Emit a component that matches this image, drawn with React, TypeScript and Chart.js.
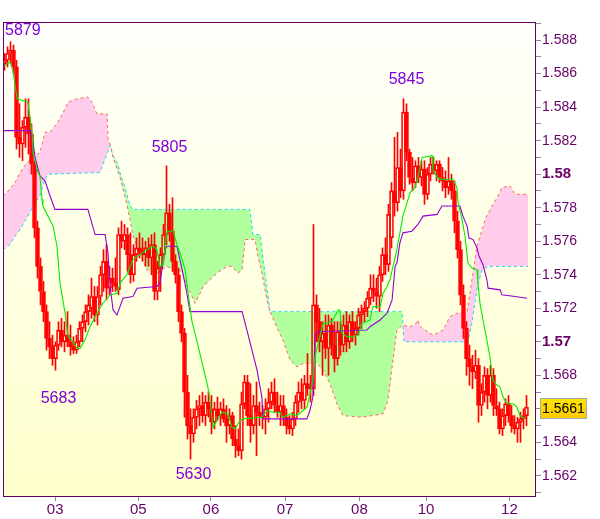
import React, { useEffect, useRef } from 'react';
import { Chart, registerables } from 'chart.js';

Chart.register(...registerables);

// ---- candle data (one bar per index) ----
const opens = [
  1.5866, 1.5868, 1.5872, 1.5874, 1.5864, 1.5822, 1.5818, 1.5828, 1.5834, 1.5824,
  1.5806, 1.5768, 1.5745, 1.5730, 1.5718, 1.5702, 1.5697, 1.5690, 1.5698, 1.5707,
  1.5700, 1.5704, 1.5700, 1.5697, 1.5695, 1.5700, 1.5708, 1.5712, 1.5718, 1.5720,
  1.5727, 1.5716, 1.5727, 1.5740, 1.5748, 1.5732, 1.5738, 1.5735, 1.5731, 1.5764,
  1.5760, 1.5764, 1.5752, 1.5740, 1.5752, 1.5756, 1.5754, 1.5752, 1.5756, 1.5750,
  1.5758, 1.5730, 1.5744, 1.5752, 1.5764, 1.5777, 1.5766, 1.5748, 1.5740, 1.5718,
  1.5705, 1.5670, 1.5650, 1.5645, 1.5655, 1.5660, 1.5662, 1.5656, 1.5664, 1.5660,
  1.5652, 1.5660, 1.5656, 1.5660, 1.5654, 1.5650, 1.5656, 1.5642, 1.5638, 1.5635,
  1.5663, 1.5676, 1.5656, 1.5650, 1.5662, 1.5658, 1.5656, 1.5655, 1.5660, 1.5664,
  1.5670, 1.5662, 1.5658, 1.5662, 1.5655, 1.5650, 1.5648, 1.5654, 1.5664, 1.5670,
  1.5665, 1.5675, 1.5672, 1.5672, 1.5722, 1.5712, 1.5700, 1.5705, 1.5696, 1.5710,
  1.5698, 1.5690, 1.5706, 1.5698, 1.5710, 1.5700, 1.5712, 1.5704, 1.5708, 1.5716,
  1.5718, 1.5720, 1.5726, 1.5732, 1.5730, 1.5727, 1.5740, 1.5752, 1.5746, 1.5762,
  1.5790, 1.5783, 1.5804, 1.5790, 1.5837, 1.5813, 1.5798, 1.5795, 1.5805, 1.5798,
  1.5803, 1.5788, 1.5800, 1.5806, 1.5802, 1.5806, 1.5798, 1.5796, 1.5792, 1.5796,
  1.5790, 1.5772, 1.5755, 1.5728, 1.5708, 1.5690, 1.5685, 1.5682, 1.5686, 1.5662,
  1.5670, 1.5680, 1.5668, 1.5680, 1.5662, 1.5660, 1.5648, 1.5656, 1.5663, 1.5656,
  1.5650, 1.5648, 1.5652, 1.5654, 1.5656,
];
const highs = [
  1.5872, 1.5876, 1.5879, 1.5877, 1.5868, 1.5842, 1.5832, 1.5845, 1.5845, 1.5830,
  1.5808, 1.5772, 1.5750, 1.5736, 1.5722, 1.5712, 1.5704, 1.5700, 1.5712, 1.5714,
  1.5712, 1.5718, 1.5710, 1.5703, 1.5704, 1.5712, 1.5716, 1.5722, 1.5728, 1.5738,
  1.5733, 1.5733, 1.5745, 1.5755, 1.5758, 1.5745, 1.5744, 1.5750, 1.5768, 1.5772,
  1.5770, 1.5768, 1.5765, 1.5758, 1.5762, 1.5765, 1.5762, 1.5760, 1.5762, 1.5764,
  1.5765, 1.5748, 1.5756, 1.5770, 1.5805, 1.5782, 1.5786, 1.5752, 1.5744, 1.5722,
  1.5708, 1.5680, 1.5660, 1.5660, 1.5665, 1.5668, 1.5670, 1.5668, 1.5670, 1.5668,
  1.5664, 1.5667, 1.5664, 1.5666, 1.5662, 1.5660, 1.5658, 1.5650, 1.5648, 1.5670,
  1.5680, 1.5680, 1.5675, 1.5668, 1.5676, 1.5664, 1.5662, 1.5666, 1.5672, 1.5676,
  1.5678, 1.5670, 1.5668, 1.5668, 1.5660, 1.5656, 1.5658, 1.5668, 1.5676, 1.5678,
  1.5680, 1.5693, 1.5680, 1.5770, 1.5728, 1.5720, 1.5712, 1.5716, 1.5716, 1.5714,
  1.5712, 1.5712, 1.5712, 1.5716, 1.5718, 1.5716, 1.5718, 1.5712, 1.5720, 1.5722,
  1.5724, 1.5730, 1.5740, 1.5740, 1.5738, 1.5745, 1.5756, 1.5762, 1.5782, 1.5795,
  1.5822, 1.5825, 1.5815, 1.5845, 1.5842, 1.5815, 1.5810, 1.5808, 1.5810, 1.5808,
  1.5808, 1.5804, 1.5810, 1.5810, 1.5808, 1.5808, 1.5804, 1.5802, 1.5810, 1.5800,
  1.5796, 1.5778, 1.5760, 1.5734, 1.5712, 1.5698, 1.5692, 1.5695, 1.5690, 1.5675,
  1.5685, 1.5684, 1.5686, 1.5684, 1.5672, 1.5664, 1.5660, 1.5666, 1.5668, 1.5662,
  1.5656, 1.5655, 1.5658, 1.5660, 1.5668,
];
const lows = [
  1.5862, 1.5864, 1.5866, 1.5860, 1.5815, 1.5810, 1.5808, 1.5816, 1.5812, 1.5800,
  1.5762, 1.5738, 1.5722, 1.5712, 1.5695, 1.5690, 1.5686, 1.5683, 1.5695, 1.5697,
  1.5694, 1.5697, 1.5692, 1.5693, 1.5693, 1.5697, 1.5700, 1.5706, 1.5710, 1.5714,
  1.5712, 1.5710, 1.5722, 1.5730, 1.5725, 1.5728, 1.5730, 1.5730, 1.5728, 1.5756,
  1.5755, 1.5742, 1.5735, 1.5736, 1.5748, 1.5750, 1.5748, 1.5745, 1.5745, 1.5740,
  1.5725, 1.5725, 1.5730, 1.5748, 1.5758, 1.5760, 1.5742, 1.5735, 1.5712, 1.5700,
  1.5655, 1.5642, 1.5630, 1.5640, 1.5648, 1.5650, 1.5652, 1.5650, 1.5655, 1.5645,
  1.5648, 1.5653, 1.5650, 1.5652, 1.5640, 1.5645, 1.5638, 1.5631, 1.5632, 1.5630,
  1.5660, 1.5650, 1.5640, 1.5645, 1.5632, 1.5650, 1.5648, 1.5645, 1.5652, 1.5660,
  1.5658, 1.5655, 1.5650, 1.5650, 1.5645, 1.5645, 1.5644, 1.5650, 1.5658, 1.5660,
  1.5660, 1.5668, 1.5664, 1.5668, 1.5700, 1.5694, 1.5680, 1.5690, 1.5680, 1.5692,
  1.5682, 1.5686, 1.5692, 1.5694, 1.5694, 1.5696, 1.5700, 1.5698, 1.5704, 1.5708,
  1.5712, 1.5715, 1.5722, 1.5724, 1.5720, 1.5718, 1.5736, 1.5740, 1.5742, 1.5756,
  1.5775, 1.5778, 1.5786, 1.5785, 1.5808, 1.5794, 1.5790, 1.5792, 1.5795, 1.5793,
  1.5782, 1.5785, 1.5796, 1.5800, 1.5796, 1.5795, 1.5790, 1.5786, 1.5788, 1.5785,
  1.5765, 1.5750, 1.5722, 1.5702, 1.5680, 1.5674, 1.5672, 1.5678, 1.5652, 1.5656,
  1.5664, 1.5660, 1.5664, 1.5656, 1.5656, 1.5645, 1.5644, 1.5650, 1.5652, 1.5646,
  1.5645, 1.5640, 1.5640, 1.5648, 1.5650,
];
const closes = [
  1.5868, 1.5872, 1.5874, 1.5864, 1.5822, 1.5818, 1.5828, 1.5834, 1.5824, 1.5806,
  1.5768, 1.5745, 1.5730, 1.5718, 1.5702, 1.5697, 1.5690, 1.5698, 1.5707, 1.5700,
  1.5704, 1.5700, 1.5697, 1.5695, 1.5700, 1.5708, 1.5712, 1.5718, 1.5722, 1.5727,
  1.5716, 1.5727, 1.5740, 1.5748, 1.5732, 1.5738, 1.5735, 1.5733, 1.5764, 1.5760,
  1.5764, 1.5752, 1.5740, 1.5752, 1.5756, 1.5754, 1.5752, 1.5756, 1.5750, 1.5758,
  1.5730, 1.5744, 1.5752, 1.5764, 1.5777, 1.5766, 1.5748, 1.5740, 1.5718, 1.5705,
  1.5670, 1.5650, 1.5645, 1.5655, 1.5660, 1.5662, 1.5656, 1.5664, 1.5660, 1.5652,
  1.5660, 1.5656, 1.5660, 1.5654, 1.5650, 1.5656, 1.5642, 1.5638, 1.5635, 1.5663,
  1.5676, 1.5656, 1.5650, 1.5662, 1.5658, 1.5656, 1.5655, 1.5660, 1.5664, 1.5670,
  1.5662, 1.5658, 1.5662, 1.5655, 1.5650, 1.5648, 1.5654, 1.5664, 1.5670, 1.5665,
  1.5675, 1.5672, 1.5672, 1.5722, 1.5712, 1.5700, 1.5705, 1.5696, 1.5710, 1.5698,
  1.5690, 1.5706, 1.5698, 1.5710, 1.5700, 1.5712, 1.5704, 1.5708, 1.5716, 1.5718,
  1.5720, 1.5726, 1.5732, 1.5730, 1.5727, 1.5740, 1.5752, 1.5746, 1.5776, 1.5790,
  1.5783, 1.5804, 1.5790, 1.5837, 1.5813, 1.5798, 1.5795, 1.5805, 1.5798, 1.5803,
  1.5788, 1.5800, 1.5806, 1.5802, 1.5806, 1.5798, 1.5796, 1.5792, 1.5796, 1.5790,
  1.5772, 1.5755, 1.5728, 1.5708, 1.5690, 1.5685, 1.5682, 1.5686, 1.5662, 1.5670,
  1.5680, 1.5668, 1.5680, 1.5662, 1.5660, 1.5648, 1.5656, 1.5663, 1.5656, 1.5650,
  1.5648, 1.5652, 1.5654, 1.5656, 1.5661,
];

// ---- indicator lines (vertices: bar index, price) ----
const tenkanIdx = [
  -0.5, 1.8, 2.8, 4.2, 7.8, 8.5, 9.2, 9.5, 11.2, 11.8, 12.5, 12.8, 16.2, 17.5, 18.5, 20.2,
  21.2, 22.5, 24.2, 25.2, 26.8, 28.5, 30.8, 32.8, 35.2, 37.5, 38.5, 40.8, 42.8, 45.2, 47.5,
  49.5, 50.8, 51.8, 52.8, 54.2, 56.2, 57.5, 58.5, 60.2, 61.2, 62.5, 64.2, 66.2, 67.8, 68.5,
  69.5, 70.8, 72.5, 74.5, 75.8, 76.8, 78.5, 79.5, 85.8, 87.5, 89.5, 91.8, 92.8, 95.2, 97.5,
  99.5, 100.8, 101.8, 102.8, 103.5, 106.2, 107.5, 109.5, 111.2, 111.8, 112.5, 114.2, 116.2,
  117.8, 119.2, 121.8, 122.8, 125.2, 126.2, 127.5, 128.5, 129.5, 130.8, 131.8, 132.8, 134.2,
  135.2, 136.8, 137.8, 139.2, 142.5, 142.8, 144.2, 145.2, 149.5, 150.8, 151.2, 152.5, 153.5,
  154.5, 155.8, 157.5, 157.8, 158.5, 159.5, 161.2, 161.8, 162.8, 164.2, 165.2, 166.2, 167.5,
  169.5, 170.8, 171.8, 173.5,
];
const tenkanVal = [
  1.5864, 1.5867, 1.5862, 1.5845, 1.5843, 1.5834, 1.5825, 1.5813, 1.5801, 1.5799, 1.5785,
  1.5781, 1.5769, 1.5757, 1.5735, 1.5717, 1.5703, 1.5701, 1.5696, 1.5696, 1.5701, 1.5709,
  1.5717, 1.5723, 1.5728, 1.5729, 1.5735, 1.5740, 1.5749, 1.5752, 1.5755, 1.5757, 1.5755,
  1.5745, 1.5746, 1.5766, 1.5766, 1.5758, 1.5753, 1.5743, 1.5729, 1.5712, 1.5700, 1.5685,
  1.5673, 1.5665, 1.5649, 1.5653, 1.5658, 1.5657, 1.5649, 1.5648, 1.5653, 1.5654, 1.5655,
  1.5659, 1.5658, 1.5658, 1.5655, 1.5657, 1.5656, 1.5659, 1.5661, 1.5669, 1.5677, 1.5691,
  1.5711, 1.5711, 1.5713, 1.5719, 1.5719, 1.5705, 1.5703, 1.5703, 1.5704, 1.5711, 1.5713,
  1.5721, 1.5721, 1.5729, 1.5733, 1.5737, 1.5745, 1.5755, 1.5765, 1.5775, 1.5783, 1.5789,
  1.5792, 1.5798, 1.5810, 1.5811, 1.5803, 1.5798, 1.5797, 1.5797, 1.5792, 1.5783, 1.5773,
  1.5763, 1.5747, 1.5744, 1.5743, 1.5735, 1.5723, 1.5713, 1.5697, 1.5691, 1.5677, 1.5674,
  1.5673, 1.5667, 1.5663, 1.5663, 1.5661, 1.5656, 1.5654,
];
const kijunIdx = [
  -0.5, 8.5, 9.5, 10.2, 11.8, 13.5, 15.2, 16.8, 27.8, 30.2, 33.5, 34.5, 35.2, 36.2, 37.5,
  38.5, 39.5, 42.8, 44.2, 50.8, 51.8, 53.5, 54.2, 57.5, 59.2, 60.8, 61.8, 79.2, 80.8, 84.2,
  85.8, 86.2, 100.8, 101.8, 102.8, 103.5, 104.2, 120.8, 121.8, 125.2, 127.5, 129.2, 130.2,
  130.8, 131.8, 132.8, 135.8, 137.8, 139.5, 144.2, 145.8, 151.8, 152.8, 154.2, 154.8, 156.2,
  157.5, 158.2, 159.5, 160.8, 161.2, 165.2, 165.8, 170.2, 174.2,
];
const kijunVal = [
  1.5826, 1.5826, 1.5819, 1.5810, 1.5799, 1.5796, 1.5787, 1.5779, 1.5779, 1.5764, 1.5764,
  1.5753, 1.5733, 1.5719, 1.5716, 1.5721, 1.5726, 1.5727, 1.5732, 1.5733, 1.5735, 1.5755,
  1.5757, 1.5757, 1.5743, 1.5729, 1.5718, 1.5718, 1.5707, 1.5683, 1.5667, 1.5654, 1.5654,
  1.5659, 1.5667, 1.5704, 1.5706, 1.5707, 1.5709, 1.5713, 1.5717, 1.5725, 1.5745, 1.5747,
  1.5759, 1.5765, 1.5766, 1.5770, 1.5775, 1.5776, 1.5781, 1.5781, 1.5775, 1.5769, 1.5762,
  1.5761, 1.5756, 1.5751, 1.5746, 1.5737, 1.5732, 1.5731, 1.5728, 1.5727, 1.5726,
];
const spanAIdx = [
  -0.5, 1.8, 3.5, 5.2, 7.8, 9.5, 11.8, 13.5, 14.5, 31.8, 35.2, 36.2, 37.8, 38.8, 40.2, 41.2,
  42.5, 81.8, 82.8, 85.2, 86.8, 88.5, 132.5, 133.2, 154.5, 155.8, 157.5, 159.2, 161.2, 174.5,
];
const spanAVal = [
  1.5755, 1.5758, 1.5763, 1.5767, 1.5775, 1.5781, 1.5787, 1.5797, 1.5800, 1.5801, 1.5817,
  1.5811, 1.5806, 1.5799, 1.5792, 1.5785, 1.5779, 1.5779, 1.5764, 1.5764, 1.5741, 1.5718,
  1.5718, 1.5700, 1.5700, 1.5711, 1.5732, 1.5743, 1.5745, 1.5745,
];
const spanBIdx = [
  -0.5, 1.8, 3.5, 5.2, 7.5, 11.8, 13.5, 15.2, 17.8, 20.2, 21.2, 24.2, 27.8, 29.2, 30.8, 34.2,
  34.5, 35.2, 36.2, 38.5, 39.5, 40.8, 41.8, 42.8, 44.2, 45.2, 47.5, 50.8, 54.2, 56.2, 59.2,
  60.8, 61.8, 63.5, 65.2, 66.2, 68.5, 70.8, 74.2, 75.8, 77.8, 79.2, 80.2, 83.5, 84.5, 85.8,
  87.5, 88.5, 91.2, 92.8, 95.2, 97.5, 99.5, 104.2, 106.2, 108.5, 110.8, 112.8, 119.2, 126.2,
  127.8, 129.2, 130.8, 132.8, 135.2, 136.8, 137.8, 138.5, 142.8, 146.2, 148.5, 150.8, 154.2,
  155.8, 157.5, 159.2, 160.2, 162.5, 164.2, 165.8, 168.5, 170.2, 171.2, 174.5,
];
const spanBVal = [
  1.5787, 1.5791, 1.5795, 1.5801, 1.5807, 1.5813, 1.5825, 1.5825, 1.5831, 1.5839, 1.5843,
  1.5845, 1.5846, 1.5843, 1.5836, 1.5836, 1.5821, 1.5818, 1.5810, 1.5798, 1.5791, 1.5782,
  1.5773, 1.5764, 1.5755, 1.5752, 1.5743, 1.5741, 1.5745, 1.5743, 1.5742, 1.5733, 1.5730,
  1.5723, 1.5729, 1.5733, 1.5737, 1.5741, 1.5745, 1.5745, 1.5741, 1.5743, 1.5761, 1.5761,
  1.5751, 1.5741, 1.5725, 1.5718, 1.5707, 1.5701, 1.5689, 1.5685, 1.5687, 1.5687, 1.5683,
  1.5675, 1.5663, 1.5656, 1.5655, 1.5657, 1.5665, 1.5685, 1.5707, 1.5710, 1.5709, 1.5710,
  1.5713, 1.5709, 1.5704, 1.5707, 1.5715, 1.5717, 1.5718, 1.5737, 1.5757, 1.5767, 1.5773,
  1.5781, 1.5786, 1.5792, 1.5793, 1.5788, 1.5788, 1.5788,
];

// ---- axes ----
const dayTickIdx = [16.9, 44.6, 68.8, 93.5, 118.3, 140.5, 168.3];
const dayLabels = ['03', '05', '06', '07', '08', '10', '12'];
const priceLabels = [
  '1.562', '1.564', '1.566', '1.568', '1.57', '1.572', '1.574',
  '1.576', '1.578', '1.58', '1.582', '1.584', '1.586', '1.588',
];
const minorTicks = [
  1.561, 1.563, 1.565, 1.567, 1.569, 1.571, 1.573, 1.575, 1.577, 1.579, 1.581, 1.583, 1.585,
  1.587, 1.589,
];
const boldLabels = ['1.57', '1.58'];

// ---- extreme labels ----
const annTexts = ['5879', '5805', '5845', '5683', '5630'];
const annBars = [2, 54, 133, 17, 62];
const annKinds = ['high', 'high', 'high', 'low', 'low'];

const FONT = '"Liberation Sans", Arial, sans-serif';
const AXIS_COLOR = '#660066';
const TICK_COLOR = '#8c8c9c';

export default function App() {
  const ref = useRef<HTMLCanvasElement | null>(null);

  useEffect(() => {
    if (!ref.current) return;
    const annDy = [-18, -18, -19, 28, 15];

    const decor = {
      id: 'decor',
      beforeDraw(chart: any) {
        const { ctx, chartArea: a } = chart;
        ctx.save();
        ctx.fillStyle = '#ffffff';
        ctx.fillRect(0, 0, chart.width, chart.height);
        const g = ctx.createLinearGradient(0, a.top, 0, a.bottom);
        g.addColorStop(0, '#fffffb');
        g.addColorStop(1, '#ffffcc');
        ctx.fillStyle = g;
        ctx.fillRect(a.left, a.top, a.right - a.left, a.bottom - a.top);
        ctx.restore();
      },
      afterDatasetsDraw(chart: any) {
        const { ctx, chartArea: a } = chart;
        const xs = chart.scales.x;
        const ys = chart.scales.y;
        ctx.save();
        ctx.font = '16px ' + FONT;
        ctx.fillStyle = '#8000d8';
        ctx.textBaseline = 'middle';
        ctx.textAlign = 'left';
        annTexts.forEach((t, k) => {
          const i = annBars[k];
          const v = annKinds[k] === 'high' ? highs[i] : lows[i];
          const w = ctx.measureText(t).width;
          const cx = xs.getPixelForValue(i) + 3;
          const left = Math.max(a.left + 2, cx - w / 2);
          const cy = Math.max(a.top + 9, ys.getPixelForValue(v) + annDy[k]);
          ctx.fillText(t, left, cy);
        });
        ctx.restore();
      },
      afterDraw(chart: any) {
        const { ctx, chartArea: a } = chart;
        const ys = chart.scales.y;
        ctx.save();
        ctx.strokeStyle = AXIS_COLOR;
        ctx.lineWidth = 1;
        ctx.strokeRect(a.left + 0.5, a.top + 0.5, a.right - a.left, a.bottom - a.top);
        const last = closes[closes.length - 1];
        const y = Math.round(ys.getPixelForValue(last));
        const bx = a.right + 5;
        const bw = 47;
        const bh = 21;
        const by = y - 9;
        const g = ctx.createLinearGradient(0, by, 0, by + bh);
        g.addColorStop(0, '#ffe400');
        g.addColorStop(1, '#ffcc00');
        ctx.fillStyle = g;
        ctx.fillRect(bx, by, bw, bh);
        ctx.strokeStyle = '#a0a8b0';
        ctx.strokeRect(bx + 0.5, by + 0.5, bw - 1, bh - 1);
        ctx.fillStyle = '#000000';
        ctx.font = '14px ' + FONT;
        ctx.textAlign = 'center';
        ctx.textBaseline = 'middle';
        ctx.fillText(last.toFixed(4), bx + bw / 2, by + bh / 2 + 1);
        ctx.restore();
      },
    };

    const bodyData = opens.map((o, i) => ({ x: i, y: [Math.min(o, closes[i]), Math.max(o, closes[i])] }));
    const upWick = opens.map((o, i) => ({ x: i, y: [Math.max(o, closes[i]), highs[i]] }));
    const lowWick = opens.map((o, i) => ({ x: i, y: [lows[i], Math.min(o, closes[i])] }));
    const bodyFill = opens.map((o, i) => (closes[i] >= o ? 'rgba(0,0,0,0)' : '#ff0000'));

    const yTicks = priceLabels.map((l) => parseFloat(l)).concat(minorTicks).sort((p, q) => p - q);
    const labelFor = (v: number) => {
      const f = priceLabels.find((l) => Math.abs(parseFloat(l) - v) < 1e-7);
      return f || '';
    };

    const chart = new Chart(ref.current, {
      type: 'bar',
      data: {
        datasets: [
          {
            type: 'line',
            data: spanBIdx.map((x, k) => ({ x, y: spanBVal[k] })),
            borderColor: '#ff6464',
            borderWidth: 1,
            borderDash: [3, 3],
            pointRadius: 0,
            fill: false,
            order: 10,
          } as any,
          {
            type: 'line',
            data: spanAIdx.map((x, k) => ({ x, y: spanAVal[k] })),
            borderColor: '#18d8f0',
            borderWidth: 1,
            borderDash: [3, 3],
            pointRadius: 0,
            fill: { target: 0, above: '#b2ff9e', below: '#ffcceb' },
            order: 11,
          } as any,
          {
            type: 'bar',
            data: upWick,
            backgroundColor: '#ff0000',
            borderWidth: 0,
            barThickness: 1,
            grouped: false,
            order: 4,
          } as any,
          {
            type: 'bar',
            data: lowWick,
            backgroundColor: '#ff0000',
            borderWidth: 0,
            barThickness: 1,
            grouped: false,
            order: 4,
          } as any,
          {
            type: 'bar',
            data: bodyData,
            backgroundColor: bodyFill,
            borderColor: '#ff0000',
            borderWidth: 1,
            borderSkipped: false,
            barThickness: 4,
            minBarLength: 1,
            grouped: false,
            order: 3,
          } as any,
          {
            type: 'line',
            data: kijunIdx.map((x, k) => ({ x, y: kijunVal[k] })),
            borderColor: '#9400d3',
            borderWidth: 1.1,
            pointRadius: 0,
            fill: false,
            order: 1,
          } as any,
          {
            type: 'line',
            data: tenkanIdx.map((x, k) => ({ x, y: tenkanVal[k] })),
            borderColor: '#00ee00',
            borderWidth: 1.1,
            pointRadius: 0,
            fill: false,
            order: 0,
          } as any,
        ],
      },
      options: {
        animation: false,
        responsive: false,
        events: [],
        layout: { padding: { left: 3, top: 22, right: 0, bottom: 0 } },
        plugins: { legend: { display: false }, tooltip: { enabled: false } },
        scales: {
          x: {
            type: 'linear',
            min: -0.5,
            max: 176.8333,
            offset: false,
            border: { display: false },
            grid: { display: true, drawOnChartArea: false, drawTicks: true, tickLength: 5, color: TICK_COLOR, offset: false },
            afterBuildTicks: (s: any) => {
              s.ticks = dayTickIdx.map((v) => ({ value: v }));
            },
            afterFit: (s: any) => {
              s.height = 23;
            },
            ticks: {
              autoSkip: false,
              maxRotation: 0,
              minRotation: 0,
              padding: 0,
              color: AXIS_COLOR,
              font: { family: FONT, size: 15 },
              callback: (_v: any, idx: number) => dayLabels[idx],
            },
          },
          y: {
            type: 'linear',
            position: 'right',
            min: 1.5608,
            max: 1.58908,
            beginAtZero: false,
            border: { display: false },
            grid: { display: true, drawOnChartArea: false, drawTicks: true, tickLength: 6, color: TICK_COLOR },
            afterBuildTicks: (s: any) => {
              s.ticks = yTicks.map((v) => ({ value: v }));
            },
            afterFit: (s: any) => {
              s.width = 65;
            },
            ticks: {
              autoSkip: false,
              padding: 1,
              color: AXIS_COLOR,
              font: (c: any) => {
                const lbl = c.tick ? labelFor(c.tick.value) : '';
                return boldLabels.includes(lbl)
                  ? { family: FONT, size: 15, weight: 'bold' }
                  : { family: FONT, size: 14 };
              },
              callback: (v: any) => labelFor(Number(v)),
            },
          },
        },
      } as any,
      plugins: [decor],
    });
    return () => chart.destroy();
  }, []);

  return (
    <div style={{ position: 'absolute', left: 0, top: 0, width: 600, height: 519 }}>
      <canvas ref={ref} width={600} height={519} style={{ width: 600, height: 519 }} />
    </div>
  );
}
